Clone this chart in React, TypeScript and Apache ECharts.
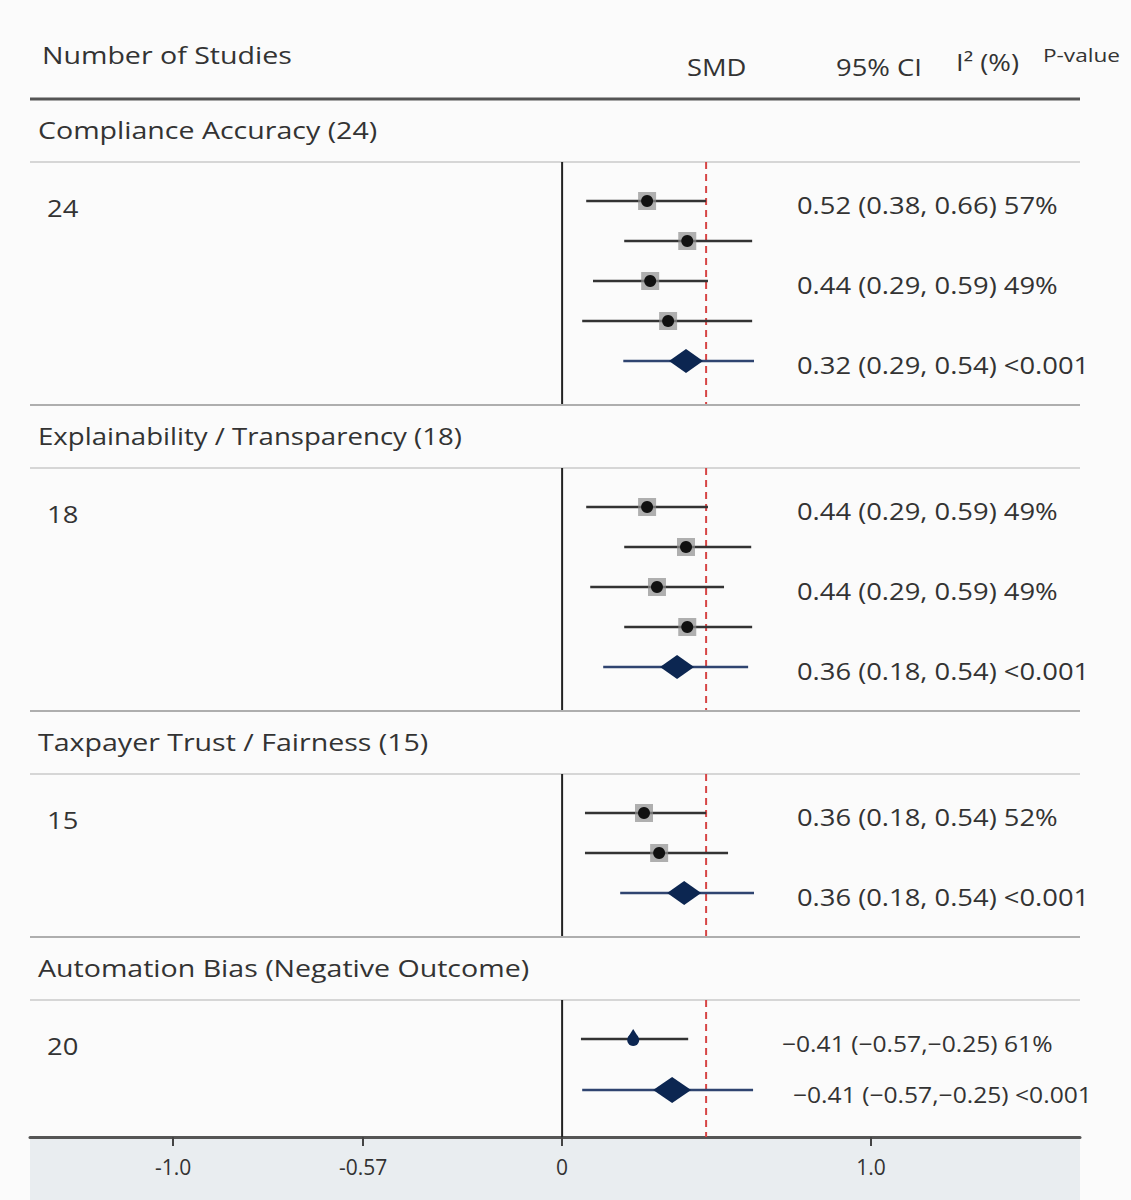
import React, { useEffect, useRef } from "react";
import * as echarts from "echarts";

// ---------- data ----------
const sectionTitles = [
  "Compliance Accuracy (24)",
  "Explainability / Transparency (18)",
  "Taxpayer Trust / Fairness (15)",
  "Automation Bias (Negative Outcome)",
];
const studyCounts = ["24", "18", "15", "20"];

const studyEstimates = [
  [0.275, 0.405, 0.285, 0.343],
  [0.275, 0.401, 0.307, 0.405],
  [0.265, 0.314],
  [0.23],
];
const studyLowers = [
  [0.078, 0.201, 0.1, 0.065],
  [0.078, 0.201, 0.091, 0.201],
  [0.074, 0.074],
  [0.061],
];
const studyUppers = [
  [0.466, 0.615, 0.472, 0.615],
  [0.472, 0.612, 0.524, 0.615],
  [0.466, 0.537],
  [0.408],
];
const pooledEstimates = [0.401, 0.372, 0.395, 0.356];
const pooledLowers = [0.198, 0.133, 0.188, 0.065];
const pooledUppers = [0.621, 0.602, 0.621, 0.618];

const rowStats = [
  ["0.52 (0.38, 0.66) 57%", "", "0.44 (0.29, 0.59) 49%", "", "0.32 (0.29, 0.54) <0.001"],
  ["0.44 (0.29, 0.59) 49%", "", "0.44 (0.29, 0.59) 49%", "", "0.36 (0.18, 0.54) <0.001"],
  ["0.36 (0.18, 0.54) 52%", "", "0.36 (0.18, 0.54) <0.001"],
  ["\u22120.41 (\u22120.57,\u22120.25) 61%", "\u22120.41 (\u22120.57,\u22120.25) <0.001"],
];

const referenceLine = 0.466;
const tickValues = [-1.259, -0.644, 0, 1];
const tickLabels = ["-1.0", "-0.57", "0", "1.0"];
const columnHeaders = ["Number of Studies", "SMD", "95% CI", "I\u00B2 (%)", "P-value"];

// ---------- layout constants ----------
const W = 1131;
const H = 1200;
const GRID_LEFT = 30;
const GRID_RIGHT = 51;
const GRID_TOP = 99;
const GRID_BOTTOM = 63;
const X_MIN = -1.722;
const X_MAX = 1.676;
const Y_MAX = H - GRID_TOP - GRID_BOTTOM;
const STATS_X = 0.76;
const FONT = '"Open Sans", "Noto Sans", sans-serif';
const SX = 1.19;
const TEXT_COLOR = "#333333";

const TITLE_OFF = 31;
const HEAD_OFF = 63;
const FIRST_OFF = 39;
const ROW_STEP = 40;
const END_OFF = 44;
const LAST_END_OFF = 47;

type SectionLayout = { top: number; title: number; divider: number; rows: number[]; end: number };

function computeLayout(): SectionLayout[] {
  const out: SectionLayout[] = [];
  let top = 0;
  const last = sectionTitles.length - 1;
  for (let s = 0; s <= last; s++) {
    const n = studyEstimates[s].length + 1;
    const divider = top + HEAD_OFF;
    const step =
      s === last && n > 1 ? (Y_MAX - LAST_END_OFF - divider - FIRST_OFF) / (n - 1) : ROW_STEP;
    const rows: number[] = [];
    for (let i = 0; i < n; i++) rows.push(divider + FIRST_OFF + i * step);
    const end = s === last ? Y_MAX : rows[n - 1] + END_OFF;
    out.push({ top, title: top + TITLE_OFF, divider, rows, end });
    top = end;
  }
  return out;
}

function txt(x: number, y: number, text: string, size: number, extra: any = {}, sx = SX) {
  return {
    type: "text",
    x,
    y,
    scaleX: sx,
    silent: true,
    style: {
      text,
      fill: TEXT_COLOR,
      fontSize: size,
      fontFamily: FONT,
      align: "left",
      verticalAlign: "middle",
      textAlign: "left",
      textVerticalAlign: "middle",
      ...extra,
    },
  };
}

export default function App() {
  const ref = useRef<HTMLDivElement>(null);

  useEffect(() => {
    document.body.style.margin = "0";
    if (!ref.current) return;
    const chart = echarts.init(ref.current, undefined, { renderer: "svg" });
    const layout = computeLayout();

    const rowData: number[][] = [];
    layout.forEach((L, s) => {
      studyEstimates[s].forEach((e, i) => {
        rowData.push([e, L.rows[i], studyLowers[s][i], studyUppers[s][i], s, i, 0]);
      });
      const pi = studyEstimates[s].length;
      rowData.push([pooledEstimates[s], L.rows[pi], pooledLowers[s], pooledUppers[s], s, pi, 1]);
    });

    const sectionData = layout.map((L, s) => [0, L.top, s]);

    const option: any = {
      animation: false,
      backgroundColor: "#fbfbfb",
      grid: { left: GRID_LEFT, right: GRID_RIGHT, top: GRID_TOP, bottom: GRID_BOTTOM },
      xAxis: {
        type: "value",
        position: "bottom",
        min: X_MIN,
        max: X_MAX,
        splitLine: { show: false },
        axisLine: { show: true, onZero: false, lineStyle: { color: "#555", width: 3 } },
        axisTick: {
          show: true,
          length: 9,
          lineStyle: { color: "#444", width: 2 },
          customValues: tickValues,
        },
        axisLabel: {
          customValues: tickValues,
          margin: 19,
          fontSize: 21,
          fontFamily: FONT,
          color: TEXT_COLOR,
          formatter: (v: number) => {
            const i = tickValues.findIndex((t) => Math.abs(t - v) < 1e-6);
            return i >= 0 ? tickLabels[i] : "";
          },
        },
      },
      yAxis: { type: "value", min: 0, max: Y_MAX, inverse: true, show: false },
      graphic: [
        {
          type: "rect",
          z: -1,
          silent: true,
          shape: { x: GRID_LEFT, y: H - GRID_BOTTOM + 1, width: W - GRID_LEFT - GRID_RIGHT, height: GRID_BOTTOM },
          style: { fill: "#e9edf0" },
        },
        txt(42, 55, columnHeaders[0], 24),
        txt(687, 67, columnHeaders[1], 23),
        txt(836, 67, columnHeaders[2], 23),
        txt(956, 62, columnHeaders[3], 23),
        txt(1043, 55, columnHeaders[4], 19),
      ],
      series: [
        {
          type: "custom",
          name: "sections",
          silent: true,
          data: sectionData,
          encode: { x: 0, y: 1 },
          renderItem: (params: any, api: any) => {
            const s = api.value(2);
            const L = layout[s];
            const [x0, yTop] = api.coord([X_MIN, L.top]);
            const [x1] = api.coord([X_MAX, L.top]);
            const [, yTitle] = api.coord([X_MIN, L.title]);
            const [, yDiv] = api.coord([X_MIN, L.divider]);
            const [, yEnd] = api.coord([X_MIN, L.end]);
            const [, yRow0] = api.coord([X_MIN, L.rows[0]]);
            const [zx] = api.coord([0, 0]);
            const [rx] = api.coord([referenceLine, 0]);
            const children: any[] = [];
            children.push({
              type: "line",
              shape: { x1: x0, y1: yTop, x2: x1, y2: yTop },
              style: s === 0 ? { stroke: "#555", lineWidth: 3 } : { stroke: "#aeaeae", lineWidth: 2 },
            });
            children.push({
              type: "line",
              shape: { x1: x0, y1: yDiv, x2: x1, y2: yDiv },
              style: { stroke: "#d6d6d6", lineWidth: 2 },
            });
            children.push({
              type: "line",
              shape: { x1: zx, y1: yDiv, x2: zx, y2: yEnd },
              style: { stroke: "#222", lineWidth: 2 },
            });
            children.push({
              type: "line",
              shape: { x1: rx, y1: yDiv, x2: rx, y2: yEnd },
              style: { stroke: "#d64545", lineWidth: 2, lineDash: [7, 5] },
            });
            const sxTitle = s === 1 ? 1.15 : SX;
            children.push(txt(x0 + 8, yTitle, sectionTitles[s], 24, {}, sxTitle));
            children.push(txt(x0 + 17, yRow0 + 7, studyCounts[s], 23));
            return { type: "group", children };
          },
        },
        {
          type: "custom",
          name: "estimates",
          silent: true,
          data: rowData,
          encode: { x: 0, y: 1 },
          renderItem: (params: any, api: any) => {
            const est = api.value(0);
            const y = api.value(1);
            const lo = api.value(2);
            const hi = api.value(3);
            const s = api.value(4);
            const r = api.value(5);
            const pooled = api.value(6) === 1;
            const [cx, cy] = api.coord([est, y]);
            const [lx] = api.coord([lo, y]);
            const [hx] = api.coord([hi, y]);
            const [tx] = api.coord([STATS_X, y]);
            const children: any[] = [];
            children.push({
              type: "line",
              shape: { x1: lx, y1: cy, x2: hx, y2: cy },
              style: { stroke: pooled ? "#2f4470" : "#333333", lineWidth: 2.4 },
            });
            if (pooled) {
              const hw = s === 3 ? 19 : 17;
              const hh = s === 3 ? 13 : 12;
              children.push({
                type: "polygon",
                shape: { points: [[cx - hw, cy], [cx, cy - hh], [cx + hw, cy], [cx, cy + hh]] },
                style: { fill: "#0c2651" },
              });
            } else if (s === 3) {
              children.push({
                type: "polygon",
                shape: { points: [[cx, cy - 10], [cx - 5, cy - 2], [cx + 5, cy - 2]] },
                style: { fill: "#0c2651" },
              });
              children.push({ type: "circle", shape: { cx, cy: cy + 1, r: 6 }, style: { fill: "#0c2651" } });
            } else {
              children.push({
                type: "rect",
                shape: { x: cx - 9, y: cy - 9, width: 18, height: 18 },
                style: { fill: "#8f8f8f", opacity: 0.7 },
              });
              children.push({ type: "circle", shape: { cx, cy, r: 6 }, style: { fill: "#111" } });
            }
            const t = rowStats[s][r];
            if (t) {
              const neg = t.charAt(0) === "\u2212";
              if (neg) {
                const isPooledText = r === rowStats[s].length - 1 && rowStats[s].length > 1;
                children.push(txt(tx + (isPooledText ? -4 : -15), cy + 5, t, 22, {}, 1.12));
              } else {
                children.push(txt(tx, cy + 4, t, 23));
              }
            }
            return { type: "group", children };
          },
        },
      ],
    };

    chart.setOption(option);
    return () => chart.dispose();
  }, []);

  return <div ref={ref} style={{ width: W, height: H }} />;
}
